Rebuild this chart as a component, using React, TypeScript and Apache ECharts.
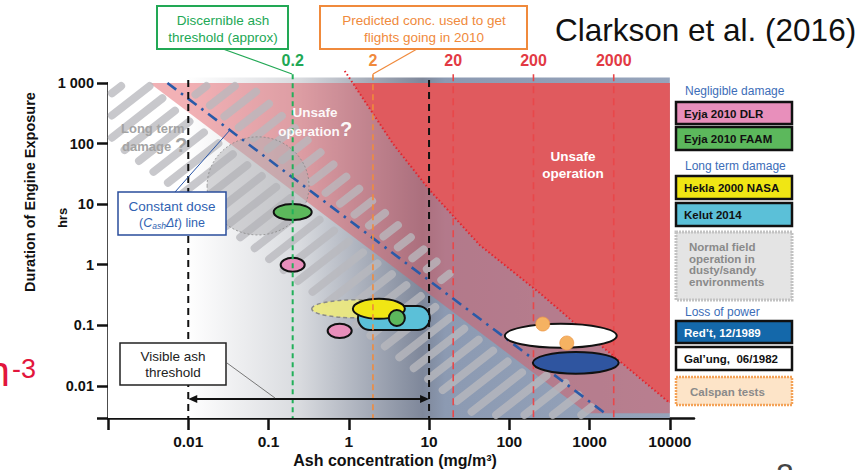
import React, { useEffect, useRef } from 'react';
import * as echarts from 'echarts';

const FONT = '"Liberation Sans", Arial, Helvetica, sans-serif';
const L = (v: number) => Math.log10(v);

// ---------- axes ----------
const xTickValues = [0.01, 0.1, 1, 10, 100, 1000, 10000];
const xTickLabels = ['0.01', '0.1', '1', '10', '100', '1000', '10000'];
const yTickValues = [0.01, 0.1, 1, 10, 100, 1000];
const yTickLabels = ['0.01', '0.1', '1', '10', '100', '1 000'];
const xExtent = [0.001, 20000];
const yExtent = [0.00295, 1000];

// ---------- threshold concentrations (mg/m3) ----------
const thresholdConc = [0.01, 10, 0.2, 2, 20, 200, 2000];
const thresholdLabels = ['', '', '0.2', '2', '20', '200', '2000'];
const thresholdKinds = ['visible', 'visible', 'discernible', 'predicted', 'red', 'red', 'red'];

// ---------- observed encounters ----------
const obsNames = ['Eyja 2010 FAAM', 'Eyja 2010 DLR', 'Eyja 2010 DLR', 'Hekla 2000 NASA (range)', 'Kelut 2014', 'Hekla 2000 NASA', 'Eyja 2010 FAAM', 'Gal’ung, 06/1982', 'Red’t, 12/1989'];
const obsConc = [0.2, 0.2, 0.77, 1.22, 3.65, 2.37, 3.97, 438, 673];
const obsHours = [7.4, 1.0, 0.081, 0.187, 0.132, 0.187, 0.132, 0.067, 0.024];
const obsSpreadConc = [0.237, 0.15, 0.15, 0.548, 0.448, 0.324, 0.1, 0.697, 0.535];
const obsSpreadHours = [0.132, 0.116, 0.116, 0.149, 0.198, 0.165, 0.132, 0.198, 0.18];
const obsKinds = ['faam', 'dlr', 'dlr', 'nasaRange', 'kelut', 'nasa', 'faam', 'galung', 'redt'];

const calspanConc = [261, 520];
const calspanHours = [0.105, 0.051];
const calspanSpread = [0.087, 0.116];

// Normal field operation in dusty/sandy environments
const dustyConc = 0.074;
const dustyHours = 20;
const dustySpread = [0.635, 0.81];

// Unsafe-operation boundary (red dotted curve)
const unsafeConc = [0.89, 3.54, 10.2, 43, 240, 1340, 10000];
const unsafeHours = [1580, 100, 17, 2.1, 0.34, 0.048, 0.0052];

// Pink "unsafe operation ?" zone: above this dose line
const pinkDose = 3.3;
const pinkFloorHours = 0.00355;

// Constant dose line (C·Δt)
const constantDose = 5.5;
const doseLineHours = [1000, 0.0033];

// Visible ash threshold arrow
const visibleArrowConc = [0.01, 10];
const visibleArrowHours = 0.0061;

// Long term damage hatched band
const bandConc = [0.001, 0.066, 1800, 34, 0.001];
const bandHours = [1000, 1000, 0.00295, 0.00295, 100];

// ---------- legend ----------
const legendHeaders = ['Negligible damage', 'Long term damage', 'Loss of power'];
const legendLabels = ['Eyja 2010 DLR', 'Eyja 2010 FAAM', 'Hekla 2000 NASA', 'Kelut 2014', 'Normal field\noperation in\ndusty/sandy\nenvironments', 'Red’t, 12/1989', 'Gal’ung,  06/1982', 'Calspan tests'];

const obsStyle: Record<string, any> = {
  faam: { fill: '#5cb85c', stroke: '#111', lineWidth: 2 },
  dlr: { fill: '#e88fbb', stroke: '#111', lineWidth: 2 },
  nasaRange: { fill: 'rgba(240,236,120,0.85)', stroke: '#8a8a8a', lineWidth: 1.5, lineDash: [4, 3] },
  kelut: { fill: '#5bc0d8', stroke: '#111', lineWidth: 2 },
  nasa: { fill: '#f0e614', stroke: '#111', lineWidth: 2 },
  galung: { fill: '#ffffff', stroke: '#111', lineWidth: 2 },
  redt: { fill: '#2f55a0', stroke: '#111', lineWidth: 2 },
};

const thresholdStyle: Record<string, any> = {
  visible: { stroke: '#111', lineWidth: 2, lineDash: [7, 5] },
  discernible: { stroke: '#22b05a', lineWidth: 2, lineDash: [5, 4] },
  predicted: { stroke: '#f08a3c', lineWidth: 1.6, lineDash: [6, 4] },
  red: { stroke: '#e8474a', lineWidth: 1.6, lineDash: [7, 5] },
};
const thresholdTextColor: Record<string, string> = {
  visible: '#111', discernible: '#22a855', predicted: '#f08a3c', red: '#e23a44',
};

function txt(x: number, y: number, text: string, size: number, color: string, o: any = {}) {
  return {
    type: 'text', x, y, z: 60, rotation: o.rotation || 0, silent: true,
    style: {
      text, fill: color,
      font: `${o.italic ? 'italic ' : ''}${o.bold ? 'bold ' : ''}${size}px ${FONT}`,
      textAlign: o.align || 'center', textVerticalAlign: o.va || 'middle',
      lineHeight: o.lineHeight, rich: o.rich,
    },
  };
}
function box(x: number, y: number, w: number, h: number, stroke: string, fill: string, lw = 2, dash?: number[]) {
  return { type: 'rect', z: 55, silent: true, shape: { x, y, width: w, height: h }, style: { fill, stroke, lineWidth: lw, lineDash: dash } };
}
function seg(x1: number, y1: number, x2: number, y2: number, stroke: string, lw = 1) {
  return { type: 'line', z: 55, silent: true, shape: { x1, y1, x2, y2 }, style: { stroke, lineWidth: lw } };
}

function cross(a: number[], b: number[]) { return a[0] * b[1] - a[1] * b[0]; }

function thresholdRender(kinds: string[]) {
  return (p: any, api: any) => {
    const i = p.dataIndex;
    const kind = thresholdKinds[i];
    if (kinds.indexOf(kind) < 0) return null;
    const topH = kind === 'visible' ? 1120 : 1400;
    const a = api.coord([L(thresholdConc[i]), L(topH)]);
    const b = api.coord([L(thresholdConc[i]), L(yExtent[0])]);
    const children: any[] = [
      { type: 'line', shape: { x1: a[0], y1: a[1], x2: b[0], y2: b[1] }, style: { ...thresholdStyle[kind] } },
    ];
    if (thresholdLabels[i]) {
      children.push({
        type: 'text', x: a[0], y: a[1] - 14,
        style: { text: thresholdLabels[i], fill: thresholdTextColor[kind], font: `bold 16px ${FONT}`, textAlign: 'center', textVerticalAlign: 'middle' },
      });
    }
    return { type: 'group', children };
  };
}

export default function App() {
  const ref = useRef<HTMLDivElement>(null);
  useEffect(() => {
    if (!ref.current) return;
    const chart = echarts.init(ref.current, null, { renderer: 'svg' });

    const baseGradient = new echarts.graphic.LinearGradient(0, 0, 1, 0, [
      { offset: 0, color: '#ffffff' },
      { offset: 0.14, color: '#ffffff' },
      { offset: 0.34, color: '#d9dbdf' },
      { offset: 0.56, color: '#7e879a' },
      { offset: 0.6, color: '#8c9ab2' },
      { offset: 1, color: '#96a4bb' },
    ]);

    const single = [[0, 0]];

    const legendGraphics: any[] = [];
    legendGraphics.push(txt(685, 91, legendHeaders[0], 12, '#3c6db8', { align: 'left' }));
    legendGraphics.push(txt(685, 166, legendHeaders[1], 12, '#3c6db8', { align: 'left' }));
    legendGraphics.push(txt(685, 312, legendHeaders[2], 12, '#3c6db8', { align: 'left' }));
    const legendBoxes = [
      { y: 102, h: 22, fill: '#e88fbb', text: '#111' },
      { y: 127, h: 23, fill: '#5cb85c', text: '#111' },
      { y: 176, h: 23, fill: '#f0e614', text: '#111' },
      { y: 203, h: 23, fill: '#5bc0d8', text: '#111' },
      { y: 232, h: 68, fill: '#e4e4e4', text: '#8a8a8a', stroke: '#c2c2c2', dash: [2, 1], lw: 3 },
      { y: 321, h: 22, fill: '#1468aa', text: '#ffffff' },
      { y: 347, h: 23, fill: '#ffffff', text: '#111' },
      { y: 377, h: 28, fill: '#fde4c8', text: '#8a8a8a', stroke: '#f4a257', dash: [2, 1], lw: 2.5 },
    ];
    legendBoxes.forEach((b, i) => {
      legendGraphics.push(box(676, b.y, 116, b.h, b.stroke || '#111', b.fill, b.lw || 2.5, b.dash));
      if (i === 4) {
        legendGraphics.push(txt(689, 241, legendLabels[i], 11.5, b.text, { bold: true, align: 'left', va: 'top', lineHeight: 11.7 }));
      } else {
        legendGraphics.push(txt(i === 7 ? 690 : 684, b.y + b.h / 2 + 0.5, legendLabels[i], 11.5, b.text, { bold: true, align: 'left' }));
      }
    });

    const graphics: any[] = [
      txt(555, 30, 'Clarkson et al. (2016)', 31.5, '#111', { align: 'left' }),
      box(157, 6, 131, 43, '#22a855', '#ffffff', 2),
      txt(223, 20, 'Discernible ash', 13.5, '#22a855'),
      txt(223, 37, 'threshold (approx)', 13.5, '#22a855'),
      seg(223, 49, 292, 74, '#22a855', 1.2),
      box(320, 6, 207, 43, '#f08a3c', '#ffffff', 2),
      txt(424, 20, 'Predicted conc. used to get', 13.5, '#f08a3c'),
      txt(424, 37, 'flights going in 2010', 13.5, '#f08a3c'),
      seg(417, 49, 373, 74, '#f08a3c', 1.2),
      txt(121, 128, 'Long term', 13, '#a3a3a3', { bold: true, align: 'left' }),
      txt(122, 146, 'damage', 13, '#a3a3a3', { bold: true, align: 'left' }),
      txt(175, 145, '?', 20, '#a3a3a3', { bold: true, align: 'left' }),
      txt(315, 112, 'Unsafe', 13.5, 'rgba(255,255,255,0.95)', { bold: true }),
      txt(309, 131, 'operation', 13.5, 'rgba(255,255,255,0.95)', { bold: true }),
      txt(340, 129, '?', 20, 'rgba(255,255,255,0.95)', { bold: true, align: 'left' }),
      txt(573, 156, 'Unsafe', 13.5, '#ffffff', { bold: true }),
      txt(573, 173, 'operation', 13.5, '#ffffff', { bold: true }),
      seg(175, 192, 230, 130, '#2a56a8', 1),
      box(118, 192, 108, 43, '#2a4d9c', '#ffffff', 1.5),
      txt(172, 206, 'Constant dose', 13.5, '#3062b2'),
      {
        type: 'text', x: 172, y: 223, z: 60, silent: true,
        style: {
          text: '({i|C}{s|ash}{i|Δt}) line', fill: '#3062b2', font: `12.5px ${FONT}`,
          textAlign: 'center', textVerticalAlign: 'middle',
          rich: {
            i: { fontStyle: 'italic', fontSize: 12.5, fill: '#3062b2', fontFamily: FONT },
            s: { fontStyle: 'italic', fontSize: 8.5, fill: '#3062b2', fontFamily: FONT, padding: [6, 0, 0, 0] },
          },
        },
      },
      seg(227, 363, 275, 398, '#777', 1),
      box(120, 343, 106, 42, '#222', '#ffffff', 1.5),
      txt(173, 356, 'Visible ash', 13.5, '#222'),
      txt(173, 372, 'threshold', 13.5, '#222'),
      txt(395, 460, 'Ash concentration (mg/m³)', 16, '#111', { bold: true }),
      txt(30, 192, 'Duration of Engine Exposure', 14.5, '#111', { bold: true, rotation: Math.PI / 2 }),
      txt(62, 218, 'hrs', 13, '#111', { bold: true, rotation: Math.PI / 2 }),
      txt(10, 392, 'm', 42, '#e2163c', { align: 'right', va: 'bottom' }),
      txt(12, 369, '-3', 27, '#e2163c', { align: 'left' }),
      txt(776, 459, '2', 32, '#444', { align: 'left', va: 'top' }),
      ...legendGraphics,
    ];

    const xFmt = (v: number) => {
      const i = xTickValues.findIndex((t) => Math.abs(L(t) - v) < 1e-6);
      return i >= 0 ? xTickLabels[i] : '';
    };
    const yFmt = (v: number) => {
      const i = yTickValues.findIndex((t) => Math.abs(L(t) - v) < 1e-6);
      return i >= 0 ? yTickLabels[i] : '';
    };
    const thresholdData = thresholdConc.map((c, i) => [L(c), i]);

    const option: any = {
      animation: false,
      grid: { left: 108, top: 83, width: 586, height: 335, outerBoundsMode: 'none' },
      xAxis: {
        type: 'value', min: L(xExtent[0]), max: L(xExtent[1]),
        splitLine: { show: false },
        axisLine: { onZero: false, lineStyle: { color: '#111', width: 2.5 } },
        axisTick: { customValues: [L(xExtent[0]), ...xTickValues.map(L)], length: 12, lineStyle: { color: '#111', width: 2.5 } },
        axisLabel: { customValues: xTickValues.map(L), formatter: xFmt, color: '#111', fontWeight: 'bold', fontSize: 15.5, fontFamily: FONT, margin: 15 },
      },
      yAxis: {
        type: 'value', min: L(yExtent[0]), max: L(yExtent[1]),
        splitLine: { show: false },
        axisLine: { onZero: false, lineStyle: { color: '#111', width: 2.5 } },
        axisTick: { customValues: [L(yExtent[0]), ...yTickValues.map(L)], length: 11, lineStyle: { color: '#111', width: 2.5 } },
        axisLabel: { customValues: yTickValues.map(L), formatter: yFmt, color: '#111', fontWeight: 'bold', fontSize: 14.5, fontFamily: FONT, margin: 14 },
      },
      graphic: graphics,
      series: [
        {
          type: 'custom', z: 1, silent: true, clip: false, data: single,
          renderItem: (p: any, api: any) => {
            const a = api.coord([L(xExtent[0]), L(1230)]);
            const b = api.coord([L(10000), L(yExtent[0])]);
            return { type: 'rect', shape: { x: a[0], y: a[1], width: b[0] - a[0], height: b[1] - a[1] }, style: { fill: baseGradient } };
          },
        },
        {
          type: 'custom', z: 2, silent: true, clip: true, data: single,
          renderItem: (p: any, api: any) => {
            const pts = [
              [L(pinkDose / yExtent[1]), L(yExtent[1])],
              [L(10000), L(yExtent[1])],
              [L(10000), L(pinkFloorHours)],
              [L(pinkDose / pinkFloorHours), L(pinkFloorHours)],
            ].map((q) => api.coord(q));
            return { type: 'polygon', shape: { points: pts }, style: { fill: 'rgba(226,82,92,0.45)' } };
          },
        },
        {
          type: 'custom', z: 3, silent: true, clip: true, data: single,
          renderItem: (p: any, api: any) => {
            const pts = unsafeConc.map((c, i) => api.coord([L(c), L(unsafeHours[i])]));
            pts.push(api.coord([L(10000), L(unsafeHours[0])]));
            return { type: 'polygon', shape: { points: pts }, style: { fill: '#e05a5e' } };
          },
        },
        {
          type: 'custom', z: 4, silent: true, clip: false, data: single,
          renderItem: (p: any, api: any) => {
            const poly = bandConc.map((c, i) => api.coord([L(c), L(bandHours[i])]));
            const ang = (38 * Math.PI) / 180;
            const d = [Math.cos(ang), -Math.sin(ang)];
            const n = [Math.sin(ang), Math.cos(ang)];
            const proj = poly.map((q: number[]) => q[0] * n[0] + q[1] * n[1]);
            const sMin = Math.min(...proj), sMax = Math.max(...proj);
            const children: any[] = [];
            const spacing = 17.5, dash = 64, gap = 26;
            for (let s = sMin + spacing * 0.6; s < sMax; s += spacing) {
              const us: number[] = [];
              for (let k = 0; k < poly.length; k++) {
                const A = poly[k], B = poly[(k + 1) % poly.length];
                const e = [B[0] - A[0], B[1] - A[1]];
                const w = [A[0] - s * n[0], A[1] - s * n[1]];
                const den = cross(d, e);
                if (Math.abs(den) < 1e-9) continue;
                const u = cross(w, e) / den;
                const v = cross(w, d) / den;
                if (v >= -1e-9 && v <= 1 + 1e-9) us.push(u);
              }
              if (us.length < 2) continue;
              const u0 = Math.min(...us), u1 = Math.max(...us);
              for (let u = u0 + 5; u < u1 - 5; u += dash + gap) {
                const ue = Math.min(u + dash, u1 - 5);
                if (ue - u < 10) continue;
                const P = [s * n[0] + u * d[0], s * n[1] + u * d[1]];
                const Q = [s * n[0] + ue * d[0], s * n[1] + ue * d[1]];
                children.push({ type: 'line', shape: { x1: P[0], y1: P[1], x2: Q[0], y2: Q[1] }, style: { stroke: 'rgba(185,185,190,0.78)', lineWidth: 8, lineCap: 'round' } });
              }
            }
            return { type: 'group', children };
          },
        },
        {
          type: 'custom', z: 5, silent: true, clip: false, data: single,
          renderItem: (p: any, api: any) => {
            const c = api.coord([L(dustyConc), L(dustyHours)]);
            const e = api.coord([L(dustyConc) + dustySpread[0], L(dustyHours) + dustySpread[1]]);
            return {
              type: 'ellipse', shape: { cx: c[0], cy: c[1], rx: Math.abs(e[0] - c[0]), ry: Math.abs(e[1] - c[1]) },
              style: { fill: 'rgba(176,176,180,0.5)', stroke: 'rgba(130,130,130,0.7)', lineWidth: 1, lineDash: [2, 2] },
            };
          },
        },
        {
          type: 'custom', z: 6, silent: true, clip: false, data: thresholdData,
          renderItem: thresholdRender(['red']),
        },
        {
          type: 'custom', z: 7, silent: true, clip: false, data: single,
          renderItem: (p: any, api: any) => {
            const a = api.coord([L(constantDose / doseLineHours[0]), L(doseLineHours[0])]);
            const b = api.coord([L(constantDose / doseLineHours[1]), L(doseLineHours[1])]);
            const curve = unsafeConc.map((c, i) => api.coord([L(c), L(unsafeHours[i])]));
            return {
              type: 'group',
              children: [
                { type: 'line', shape: { x1: a[0], y1: a[1], x2: b[0], y2: b[1] }, style: { stroke: '#2a5aa8', lineWidth: 2.6, lineDash: [11, 6, 2.5, 6] } },
                { type: 'polyline', shape: { points: curve }, style: { stroke: '#e3242e', lineWidth: 2, lineDash: [1.5, 2.5], fill: null } },
              ],
            };
          },
        },
        {
          type: 'custom', z: 8, silent: true, clip: false,
          data: obsConc.map((c, i) => [L(c), L(obsHours[i])]),
          renderItem: (p: any, api: any) => {
            const i = p.dataIndex;
            const c = api.coord([L(obsConc[i]), L(obsHours[i])]);
            const e = api.coord([L(obsConc[i]) + obsSpreadConc[i], L(obsHours[i]) + obsSpreadHours[i]]);
            const rx = Math.abs(e[0] - c[0]), ry = Math.abs(e[1] - c[1]);
            const k = obsKinds[i];
            if (k === 'kelut') {
              return { type: 'rect', name: obsNames[i], shape: { x: c[0] - rx, y: c[1] - ry, width: 2 * rx, height: 2 * ry, r: ry }, style: { ...obsStyle[k] } };
            }
            return { type: 'ellipse', name: obsNames[i], shape: { cx: c[0], cy: c[1], rx, ry }, style: { ...obsStyle[k] } };
          },
        },
        {
          type: 'custom', z: 9, silent: true, clip: false,
          data: calspanConc.map((c, i) => [L(c), L(calspanHours[i])]),
          renderItem: (p: any, api: any) => {
            const i = p.dataIndex;
            const c = api.coord([L(calspanConc[i]), L(calspanHours[i])]);
            const e = api.coord([L(calspanConc[i]) + calspanSpread[0], L(calspanHours[i]) + calspanSpread[1]]);
            return {
              type: 'ellipse', shape: { cx: c[0], cy: c[1], rx: Math.abs(e[0] - c[0]), ry: Math.abs(e[1] - c[1]) },
              style: { fill: '#f5b262', stroke: 'rgba(236,150,70,0.7)', lineWidth: 1 },
            };
          },
        },
        {
          type: 'custom', z: 10, silent: true, clip: false, data: thresholdData,
          renderItem: thresholdRender(['visible', 'discernible', 'predicted']),
        },
        {
          type: 'custom', z: 11, silent: true, clip: false, data: single,
          renderItem: (p: any, api: any) => {
            const a = api.coord([L(visibleArrowConc[0]), L(visibleArrowHours)]);
            const b = api.coord([L(visibleArrowConc[1]), L(visibleArrowHours)]);
            const hl = 9, hw = 4;
            return {
              type: 'group',
              children: [
                { type: 'line', shape: { x1: a[0] + 4, y1: a[1], x2: b[0] - 4, y2: b[1] }, style: { stroke: '#111', lineWidth: 2 } },
                { type: 'polygon', shape: { points: [[a[0], a[1]], [a[0] + hl, a[1] - hw], [a[0] + hl, a[1] + hw]] }, style: { fill: '#111' } },
                { type: 'polygon', shape: { points: [[b[0], b[1]], [b[0] - hl, b[1] - hw], [b[0] - hl, b[1] + hw]] }, style: { fill: '#111' } },
              ],
            };
          },
        },
      ],
    };
    chart.setOption(option);
    return () => chart.dispose();
  }, []);
  return <div ref={ref} style={{ position: 'absolute', left: 0, top: 0, width: 865, height: 470, background: '#ffffff' }} />;
}
